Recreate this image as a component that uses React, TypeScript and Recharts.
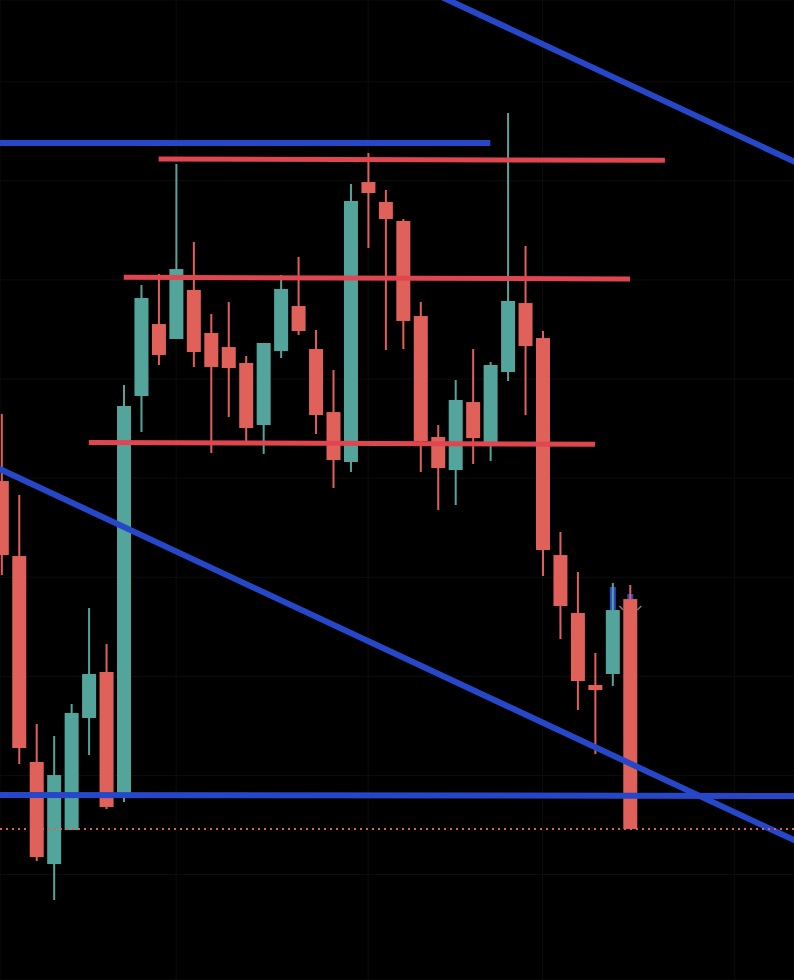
import { ComposedChart, Bar, Line, XAxis, YAxis, CartesianGrid, ReferenceLine } from 'recharts'

// candle values, one per session, oldest first
const OPEN  = [1949.71, 1942.14, 1921.36, 1911.06, 1914.49, 1925.80, 1930.44, 1917.93, 1958.29, 1965.55, 1964.04, 1968.99, 1964.65, 1963.23, 1961.62, 1955.36, 1962.83, 1967.37, 1963.03, 1956.67, 1951.63, 1979.88, 1977.87, 1975.95, 1966.36, 1954.15, 1950.82, 1957.68, 1953.45, 1960.71, 1967.67, 1964.14, 1942.24, 1936.39, 1929.13, 1930.24, 1937.80]
const HIGH  = [1956.47, 1948.30, 1925.19, 1923.98, 1927.21, 1936.90, 1933.26, 1959.40, 1969.49, 1970.60, 1981.70, 1973.83, 1966.56, 1967.77, 1962.33, 1963.64, 1970.50, 1972.32, 1964.95, 1960.91, 1979.68, 1982.81, 1979.08, 1976.15, 1967.77, 1955.36, 1959.90, 1963.03, 1961.72, 1986.85, 1973.43, 1964.85, 1944.57, 1940.53, 1932.36, 1939.42, 1939.22]
const LOW   = [1940.23, 1921.15, 1911.37, 1907.43, 1914.49, 1922.06, 1916.61, 1917.32, 1954.66, 1961.42, 1964.04, 1961.22, 1952.54, 1956.17, 1953.55, 1952.44, 1962.12, 1964.44, 1954.45, 1949.01, 1950.62, 1973.22, 1962.93, 1963.03, 1950.62, 1946.79, 1947.29, 1951.43, 1951.73, 1959.80, 1956.37, 1940.13, 1933.77, 1926.60, 1922.16, 1929.03, 1914.60]
const CLOSE = [1942.24, 1922.77, 1911.77, 1920.04, 1926.30, 1930.24, 1916.82, 1957.28, 1968.18, 1962.43, 1971.10, 1962.73, 1961.22, 1961.11, 1955.06, 1963.64, 1969.09, 1964.85, 1956.37, 1951.83, 1977.97, 1978.77, 1976.15, 1965.86, 1953.75, 1951.02, 1957.89, 1954.05, 1961.42, 1967.88, 1963.33, 1942.75, 1937.10, 1929.53, 1928.62, 1936.69, 1914.60]

// small blue overlay bars on the last two candles
const OVERLAY = [
  { i: 35, hi: 1939.02, lo: 1936.69 },
  { i: 36, hi: 1938.31, lo: 1937.80 },
]
const MARKS = [{ i: 36, v: 1936.90 }]

// drawn trend lines: [[index, price], [index, price]]
const BLUE_LINES = [
  [[-2, 1983.82], [28, 1983.82]],
  [[-2, 1918.04], [47, 1917.93]],
  [[24, 1999.55], [47, 1980.63]],
  [[-2, 1952.49], [47, 1912.16]],
]
const RED_LINES = [
  [[9, 1982.20], [38, 1982.07]],
  [[7, 1970.27], [36, 1970.10]],
  [[5, 1953.61], [34, 1953.42]],
]

const X_TICKS = [0, 10, 21, 31, 42]
const Y_TICKS = [1900, 1910, 1920, 1930, 1940, 1950, 1960, 1970, 1980, 1990]

const GREEN = '#53a59b'
const RED   = '#e0605a'
const RED_LINE  = '#e0464f'
const BLUE_LINE = '#2747c9'

const candles = OPEN.map((o, i) => {
  const ov = OVERLAY.find(d => d.i === i)
  const mk = MARKS.find(d => d.i === i)
  return {
    i, open: o, high: HIGH[i], low: LOW[i], close: CLOSE[i],
    range: [LOW[i], HIGH[i]],
    ovHi: ov ? ov.hi : null, ovLo: ov ? ov.lo : null,
    mark: mk ? mk.v : null,
  }
})
const lastClose = CLOSE[CLOSE.length - 1]

function Candle(props: any) {
  const { x, y, width, height, payload } = props
  if (!payload || height == null || isNaN(y)) return null
  const top  = Math.min(y, y + height)
  const h    = Math.abs(height)
  const span = payload.high - payload.low || 1
  const py   = (v: number) => top + ((payload.high - v) / span) * h
  const cx   = x + width / 2
  const up   = payload.close > payload.open
  const col  = up ? GREEN : RED
  const bTop = py(Math.max(payload.open, payload.close))
  const bBot = py(Math.min(payload.open, payload.close))
  return (
    <g>
      {payload.ovHi != null && (
        <rect x={cx - 3} y={py(payload.ovHi)} width={6} height={Math.max(1, py(payload.ovLo) - py(payload.ovHi))} fill={BLUE_LINE} />
      )}
      <rect x={cx - 1} y={top} width={2} height={h} fill={col} />
      <rect x={cx - 7} y={bTop} width={14} height={Math.max(2, bBot - bTop)} fill={col} />
      {payload.mark != null && (
        <g stroke="#7a7a7a" strokeWidth={1.5}>
          <line x1={cx - 11} y1={py(payload.mark) - 2} x2={cx - 7} y2={py(payload.mark) + 2} />
          <line x1={cx + 7} y1={py(payload.mark) + 2} x2={cx + 11} y2={py(payload.mark) - 2} />
        </g>
      )}
    </g>
  )
}

export default function App() {
  return (
    <div style={{ position: 'absolute', left: 0, top: 0, width: 794, height: 980, background: '#000' }}>
      <ComposedChart width={794} height={980} data={candles} margin={{ top: 0, right: 0, bottom: 0, left: 0 }}>
        <CartesianGrid stroke="#0d0d0d" />
        <XAxis dataKey="i" type="number" domain={[-0.088, 45.394]} ticks={X_TICKS} allowDataOverflow hide />
        <YAxis type="number" domain={[1899.36, 1998.25]} ticks={Y_TICKS} allowDataOverflow hide />
        {BLUE_LINES.map((l, k) => (
          <Line key={'b' + k} data={l.map(p => ({ i: p[0], v: p[1] }))} dataKey="v" stroke={BLUE_LINE} strokeWidth={6}
            dot={false} activeDot={false} isAnimationActive={false} />
        ))}
        {RED_LINES.map((l, k) => (
          <Line key={'r' + k} data={l.map(p => ({ i: p[0], v: p[1] }))} dataKey="v" stroke={RED_LINE} strokeWidth={5}
            dot={false} activeDot={false} isAnimationActive={false} />
        ))}
        <Bar dataKey="range" barSize={14} shape={<Candle />} isAnimationActive={false} />
        <ReferenceLine y={lastClose} stroke={RED} strokeWidth={2} strokeDasharray="2 4" />
      </ComposedChart>
    </div>
  )
}
